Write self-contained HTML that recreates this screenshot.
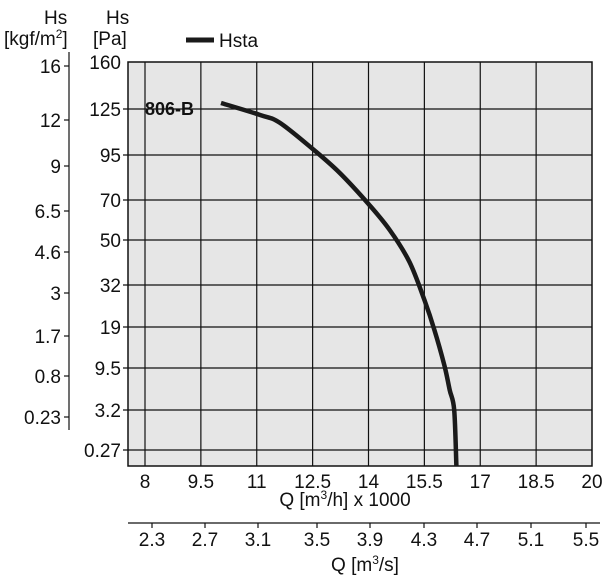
<!DOCTYPE html>
<html><head><meta charset="utf-8"><style>
body{margin:0;background:#fff;}
svg text{font-family:"Liberation Sans",Arial,sans-serif;fill:#111;}
</style></head><body>
<svg id="c" width="606" height="577" xmlns="http://www.w3.org/2000/svg">
<rect x="128" y="62" width="464" height="404" fill="#e6e6e6"/>
<g id="grid"></g>
<g id="axes"></g>
<path id="curve" fill="none" stroke="#1a1a1a" stroke-width="4.5" stroke-linejoin="round"/>
<text x="145" y="115" font-size="18" font-weight="bold">806-B</text>
<line x1="186" y1="40" x2="214" y2="40" stroke="#1a1a1a" stroke-width="5"/>
<text x="219" y="47" font-size="19">Hsta</text>
<text x="44" y="24" font-size="19">Hs</text>
<text x="4" y="45" font-size="19">[kgf/m<tspan font-size="12" dy="-7">2</tspan><tspan dy="7">]</tspan></text>
<text x="106" y="24" font-size="19">Hs</text>
<text x="93" y="45" font-size="19">[Pa]</text>
<text x="345" y="506" font-size="19" text-anchor="middle">Q [m<tspan font-size="12" dy="-7">3</tspan><tspan dy="7">/h] x 1000</tspan></text>
<text x="365" y="571" font-size="19" text-anchor="middle">Q [m<tspan font-size="12" dy="-7">3</tspan><tspan dy="7">/s]</tspan></text>
</svg>
<script>
const qTicks=[8,9.5,11,12.5,14,15.5,17,18.5,20];
const paTicks=[160,125,95,70,50,32,19,9.5,3.2,0.27,0];
const paTickY=[62,109,155,200,240,285,327,368,410,450,466];
const kgfTicks=["16","12","9","6.5","4.6","3","1.7","0.8","0.23"];
const kgfTickY=[66,120,166,211,252,293,336,376,417];
const q2Ticks=["2.3","2.7","3.1","3.5","3.9","4.3","4.7","5.1","5.5"];
const q2TickX=[152,205,258,317,370,424,477,531,586];
const curveQ=[10.04,11.1,11.62,12.5,13.23,14,14.57,15.1,15.5,15.77,16.04,16.18,16.3,16.36];
const curvePa=[129.5,121,116,99,85,68,55,41.2,27.4,18.3,10,6.2,3.2,0];
const NS="http://www.w3.org/2000/svg";
function xS(q){return 145+(q-8)*(592-145)/12;}
function yS(p){for(let i=0;i<paTicks.length-1;i++){const a=paTicks[i],b=paTicks[i+1];if(p<=a&&p>=b){return paTickY[i]+(a-p)/(a-b)*(paTickY[i+1]-paTickY[i]);}}return p>160?62:466;}
function mk(t,at,parent){const e=document.createElementNS(NS,t);for(const k in at)e.setAttribute(k,at[k]);parent.appendChild(e);return e;}
const grid=document.getElementById('grid'),axes=document.getElementById('axes');
qTicks.forEach((q,i)=>{const x=xS(q);
 if(i<qTicks.length-1){const l=mk('line',{x1:x,y1:62,x2:x,y2:466,stroke:'#111','stroke-width':1.2},grid);
 }
 const t=mk('text',{x:x,y:488,'font-size':19,'text-anchor':'middle'},axes);t.textContent=q;
 });
paTicks.forEach((p,i)=>{if(i==0||i==paTicks.length-1)return;const y=yS(p);
 const l=mk('line',{x1:123,y1:y,x2:592,y2:y,stroke:'#111','stroke-width':1.2},grid);
 });
paTicks.forEach((p,i)=>{if(i==paTicks.length-1)return;const y=yS(p);
 const t=mk('text',{x:121,y:y+7,'font-size':19,'text-anchor':'end'},axes);t.textContent=p;
 });
const b=mk('rect',{x:128,y:62,width:464,height:404,fill:'none',stroke:'#111','stroke-width':1.5},grid);

const ka=mk('line',{x1:69,y1:52,x2:69,y2:430,stroke:'#111','stroke-width':1.2},axes);

kgfTicks.forEach((k,i)=>{const y=kgfTickY[i];
 const l=mk('line',{x1:64,y1:y,x2:69,y2:y,stroke:'#111','stroke-width':1.2},axes);
 
 const t=mk('text',{x:61,y:y+7,'font-size':19,'text-anchor':'end'},axes);t.textContent=k;
 });
const a2=mk('line',{x1:128,y1:523,x2:600,y2:523,stroke:'#111','stroke-width':1.2},axes);

q2Ticks.forEach((k,i)=>{const x=q2TickX[i];
 const l=mk('line',{x1:x,y1:523,x2:x,y2:528,stroke:'#111','stroke-width':1.2},axes);
 
 const t=mk('text',{x:x,y:546,'font-size':19,'text-anchor':'middle'},axes);t.textContent=k;
 });
// smooth Catmull-Rom path
const pts=curveQ.map((q,i)=>[xS(q),yS(curvePa[i])]);
let d='M'+pts[0][0].toFixed(1)+','+pts[0][1].toFixed(1);
for(let i=0;i<pts.length-1;i++){
 const p0=pts[i-1]||pts[i],p1=pts[i],p2=pts[i+1],p3=pts[i+2]||p2;
 const c1=[p1[0]+(p2[0]-p0[0])/6,p1[1]+(p2[1]-p0[1])/6];
 const c2=[p2[0]-(p3[0]-p1[0])/6,p2[1]-(p3[1]-p1[1])/6];
 d+='C'+c1.map(v=>v.toFixed(1)).join(',')+' '+c2.map(v=>v.toFixed(1)).join(',')+' '+p2.map(v=>v.toFixed(1)).join(',');
}
document.getElementById('curve').setAttribute('d',d);
</script>
</body></html>
